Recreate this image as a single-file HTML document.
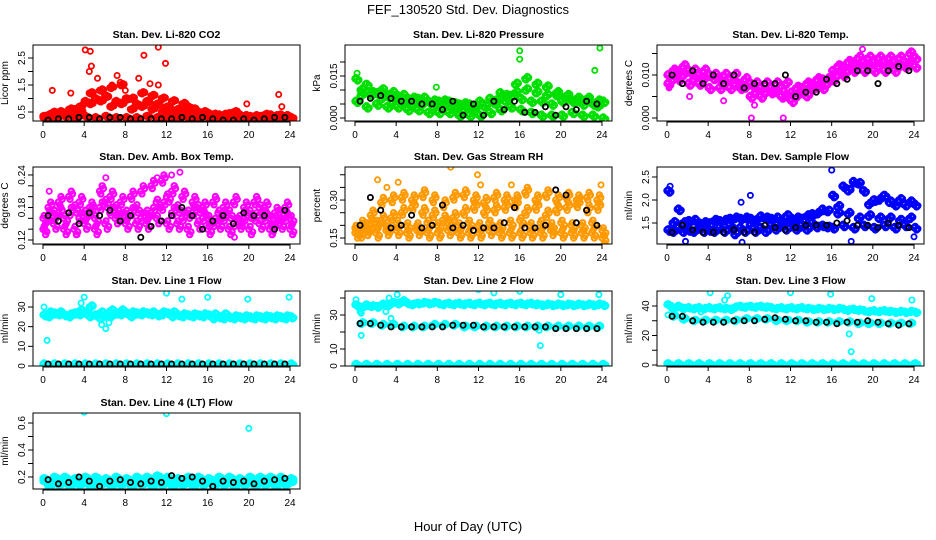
<!DOCTYPE html>
<html><head><meta charset="utf-8"><style>
body{margin:0;background:#fff;}
svg{display:block;font-family:"Liberation Sans",sans-serif;}
</style></head><body>
<svg id="chart" width="936" height="540" viewBox="0 0 936 540">
<text x="468" y="14" text-anchor="middle" font-size="13">FEF_130520  Std. Dev. Diagnostics</text>
<text x="468" y="531" text-anchor="middle" font-size="13">Hour of Day (UTC)</text>
</svg>
<script>
const hoursH=[0,1,2,3,4,5,6,7,8,9,10,11,12,13,14,15,16,17,18,19,20,21,22,23,24];
const hoursHalf=[0.5,1.5,2.5,3.5,4.5,5.5,6.5,7.5,8.5,9.5,10.5,11.5,12.5,13.5,14.5,15.5,16.5,17.5,18.5,19.5,20.5,21.5,22.5,23.5];
const xTicks=[0,4,8,12,16,20,24];

const co2A=[0.3,0.3,0.35,0.3,0.35,0.3,0.35,0.3,0.3,0.3,0.35,0.3,0.3,0.3,0.3,0.3,0.3,0.25,0.3,0.3,0.25,0.3,0.3,0.3,0.3];
const co2B=[0.4,0.5,0.6,0.7,0.8,0.9,0.7,0.8,0.6,0.7,0.6,0.5,0.5,0.45,0.5,0.4,0.4,0.35,0.4,0.35,0.35,0.4,0.35,0.35];
const co2C=[0.35,0.5,0.45,0.6,0.9,1.0,1.1,0.9,1.0,0.8,0.9,0.8,0.7,0.6,0.7,0.5,0.45,0.4,0.45,0.4,0.35,0.35,0.4,0.4,0.3];
const co2D=[0.3,0.35,0.4,0.5,1.2,1.3,1.4,1.5,1.0,1.2,1.1,1.0,0.9,0.8,0.6,0.5,0.4,0.4,0.5,0.35,0.3,0.3,0.3,0.35];
const co2OutX=[4.1,4.6,4.7,4.5,5.3,0.9,2.7,7.2,7.5,9.8,9.3,11.2,11.9,10.4,11.2,19.8,22.9,23.2,6.7,8];
const co2OutY=[2.8,2.75,2.2,2.0,1.75,1.3,1.2,1.85,1.6,2.6,1.75,2.9,2.3,1.55,1.5,0.8,1.15,0.7,1.5,1.3];
const co2Black=[0.2,0.25,0.25,0.3,0.3,0.25,0.3,0.3,0.25,0.25,0.25,0.25,0.25,0.3,0.25,0.3,0.25,0.2,0.2,0.25,0.2,0.25,0.3,0.3];

const presA=[0.014,0.012,0.009,0.008,0.008,0.007,0.007,0.006,0.006,0.006,0.005,0.005,0.006,0.007,0.009,0.008,0.007,0.006,0.006,0.005,0.006,0.006,0.005,0.005,0.006];
const presB=[0.010,0.008,0.007,0.006,0.005,0.005,0.005,0.004,0.004,0.003,0.003,0.003,0.004,0.005,0.006,0.012,0.014,0.012,0.011,0.009,0.008,0.007,0.007,0.004];
const presC=[0.006,0.004,0.005,0.004,0.004,0.003,0.003,0.002,0.002,0.002,0.001,0.001,0.001,0.002,0.003,0.004,0.003,0.002,0.001,0.001,0.001,0.002,0.001,0.001,0.0];
const presD=[0.008,0.009,0.010,0.009,0.008,0.007,0.007,0.006,0.006,0.005,0.005,0.004,0.004,0.006,0.008,0.009,0.010,0.009,0.008,0.008,0.007,0.006,0.006,0.006];
const presOutX=[16,16,23.8,23.3,7.9,0.2];
const presOutY=[0.024,0.021,0.025,0.017,0.011,0.016];
const presBlack=[0.006,0.007,0.008,0.007,0.006,0.006,0.005,0.005,0.003,0.006,0.001,0.005,0.001,0.006,0.003,0.006,0.002,0.002,0.004,0.001,0.004,0.003,0.006,0.005];

const ltA=[0.010,0.011,0.011,0.010,0.010,0.009,0.009,0.008,0.008,0.007,0.007,0.007,0.006,0.007,0.008,0.009,0.011,0.012,0.013,0.013,0.013,0.013,0.013,0.013,0.014];
const ltB=[0.009,0.010,0.009,0.009,0.009,0.008,0.008,0.007,0.006,0.006,0.006,0.005,0.005,0.005,0.007,0.008,0.010,0.011,0.012,0.012,0.012,0.012,0.012,0.013];
const ltC=[0.008,0.009,0.008,0.008,0.007,0.007,0.007,0.007,0.005,0.005,0.006,0.005,0.004,0.006,0.007,0.007,0.009,0.010,0.011,0.011,0.011,0.011,0.011,0.012,0.012];
const ltD=[0.011,0.012,0.011,0.011,0.010,0.010,0.010,0.009,0.008,0.008,0.008,0.008,0.007,0.008,0.009,0.009,0.012,0.013,0.014,0.014,0.014,0.014,0.014,0.015];
const ltOutX=[8.2,11.3,5.5,8.5,2.2,19,0.2];
const ltOutY=[0.0,0.0,0.004,0.003,0.005,0.016,0.007];
const ltBlack=[0.010,0.008,0.011,0.008,0.010,0.008,0.010,0.007,0.008,0.008,0.008,0.010,0.005,0.006,0.006,0.009,0.008,0.009,0.011,0.011,0.008,0.011,0.012,0.011];

const ambA=[0.16,0.17,0.16,0.18,0.17,0.16,0.19,0.18,0.17,0.18,0.17,0.19,0.2,0.18,0.17,0.18,0.16,0.17,0.17,0.16,0.17,0.18,0.16,0.17,0.16];
const ambB=[0.18,0.19,0.2,0.19,0.18,0.21,0.2,0.19,0.2,0.21,0.22,0.23,0.21,0.2,0.19,0.18,0.19,0.18,0.19,0.18,0.19,0.18,0.17,0.18];
const ambC=[0.14,0.15,0.14,0.14,0.15,0.14,0.15,0.16,0.15,0.15,0.15,0.16,0.15,0.15,0.14,0.15,0.14,0.15,0.14,0.15,0.14,0.15,0.14,0.15,0.14];
const ambD=[0.16,0.17,0.17,0.16,0.17,0.18,0.17,0.16,0.17,0.16,0.17,0.18,0.17,0.16,0.17,0.16,0.15,0.16,0.15,0.16,0.16,0.16,0.15,0.16];
const ambOutX=[0.6,6.1,11.1,12.5,13.3,18.6,22.3,3.3,0.2];
const ambOutY=[0.21,0.235,0.235,0.24,0.245,0.125,0.13,0.13,0.14];
const ambBlack=[0.165,0.155,0.17,0.15,0.17,0.165,0.175,0.155,0.165,0.125,0.145,0.155,0.165,0.18,0.165,0.14,0.155,0.165,0.15,0.17,0.165,0.165,0.14,0.175];

const rhA=[0.17,0.18,0.17,0.18,0.18,0.17,0.18,0.17,0.17,0.18,0.17,0.17,0.17,0.18,0.17,0.17,0.17,0.17,0.17,0.18,0.17,0.17,0.17,0.17,0.15];
const rhB=[0.2,0.2,0.22,0.23,0.25,0.27,0.25,0.24,0.22,0.23,0.25,0.27,0.25,0.26,0.27,0.28,0.25,0.27,0.24,0.26,0.27,0.28,0.26,0.27];
const rhC=[0.19,0.2,0.21,0.2,0.21,0.2,0.2,0.21,0.2,0.21,0.2,0.21,0.2,0.21,0.2,0.21,0.22,0.2,0.21,0.2,0.21,0.2,0.2,0.21,0.18];
const rhD=[0.16,0.24,0.29,0.3,0.31,0.3,0.32,0.3,0.28,0.31,0.32,0.3,0.29,0.31,0.3,0.3,0.33,0.3,0.32,0.3,0.31,0.3,0.31,0.3];
const rhOutX=[2.2,4.2,9.3,11.9,12.2,3.1,23.9,15.2];
const rhOutY=[0.38,0.37,0.43,0.4,0.36,0.35,0.36,0.36];
const rhBlack=[0.2,0.31,0.26,0.19,0.2,0.24,0.19,0.2,0.28,0.19,0.2,0.18,0.19,0.19,0.21,0.27,0.19,0.19,0.2,0.34,0.32,0.21,0.26,0.2];

const sfA=[1.35,1.4,1.35,1.4,1.35,1.4,1.45,1.4,1.45,1.4,1.45,1.45,1.5,1.45,1.5,1.45,1.4,1.45,1.4,1.45,1.4,1.45,1.4,1.45,1.4];
const sfB=[1.5,1.5,1.55,1.5,1.55,1.55,1.6,1.6,1.55,1.6,1.6,1.65,1.6,1.65,1.7,1.75,1.7,1.7,1.6,1.65,1.6,1.6,1.55,1.6];
const sfC=[2.2,1.8,1.55,1.5,1.5,1.55,1.6,1.6,1.6,1.65,1.6,1.55,1.6,1.6,1.7,1.8,2.1,2.3,2.4,2.2,2.0,2.1,1.9,1.9,1.9];
const sfD=[1.3,1.3,1.3,1.3,1.3,1.3,1.25,1.3,1.3,1.3,1.35,1.35,1.35,1.35,1.4,1.4,1.85,2.2,2.35,1.9,2.0,1.95,2.0,1.95];
const sfOutX=[0.3,8.1,16,7.3,17.9,24,7.2,1.8];
const sfOutY=[2.3,2.1,2.65,1.08,1.1,1.2,1.95,1.1];
const sfBlack=[1.3,1.45,1.35,1.3,1.3,1.3,1.35,1.3,1.3,1.45,1.4,1.35,1.4,1.45,1.45,1.45,1.5,1.55,1.45,1.45,1.4,1.5,1.45,1.4];

const l1A=[26,27,26,27,27,26,26,27,27,27,27,26,27,26,26,26,26,25,25,25,25,25,25,25,25];
const l1B=[25,26,25,28,30,27,28,28,27,27,27,27,27,26,26,26,26,26,25,25,25,25,25,25];
const l1C=[1,1,1,1,1,1,1,1,1,1,1,1,1,1,1,1,1,1,1,1,1,1,1,1,1];
const l1D=[27,27,26,26,25,24,25,26,25,26,26,26,25,25,25,25,24,24,24,24,24,24,24,24];
const l1OutX=[0.1,0.4,4,3.7,12,13.5,16,19.9,23.9,6.1,5.7,6.4];
const l1OutY=[30,13,35,32,37,34,35,34,35,19,21,22];
const l1Black=[1,1,1,1,1,1,1,1,1,1,1,1,1,1,1,1,1,1,1,1,1,1,1,1];

const l2A=[36,36,35,36,37,37,37,37,37,37,37,37,37,37,37,37,37,37,36,36,36,36,36,36,36];
const l2B=[34,35,36,37,38,36,37,37,36,36,36,36,36,36,36,36,36,36,36,36,36,36,36,36];
const l2C=[1,1,1,1,1,1,1,1,1,1,1,1,1,1,1,1,1,1,1,1,1,1,1,1,1];
const l2D=[25,25,24,24,23,23,23,24,24,24,23,23,23,23,23,23,23,23,23,23,23,23,23,23];
const l2OutX=[0.1,0.5,0.6,0.6,3,3.5,3.3,4.1,12,18,17.9,23.7,16,13.5,20];
const l2OutY=[39,32,31,18,32,28,40,42,45,12,21,42,44,43,42];
const l2Black=[25,25,24,23,23,23,23,23,23,24,24,24,23,23,23,23,23,23,23,22,22,22,22,22];

const l3A=[41,40,39,39,39,39,38,40,40,40,39,39,39,39,38,38,38,38,38,37,37,37,36,36,36];
const l3B=[38,38,38,38,38,38,39,39,39,39,38,38,38,38,38,38,38,37,37,36,36,36,36,36];
const l3C=[1,1,1,1,1,1,1,1,1,1,1,1,1,1,1,1,1,1,1,1,1,1,1,1,1];
const l3D=[33,31,30,30,30,30,30,31,31,31,30,30,30,29,29,29,29,29,28,28,28,28,28,28];
const l3OutX=[4.2,5.9,12,15.9,17.9,17.7,23.8,0.1,3.3,19.9,5.6];
const l3OutY=[49,47,49,48,9,21,44,34,36,45,44];
const l3Black=[33,33,30,29,29,29,30,30,30,31,32,31,30,30,29,29,28,29,29,30,29,28,27,28];

const l4A=[0.17,0.18,0.17,0.18,0.17,0.18,0.17,0.18,0.17,0.18,0.17,0.18,0.17,0.18,0.17,0.18,0.17,0.18,0.17,0.18,0.17,0.18,0.17,0.18,0.17];
const l4B=[0.15,0.16,0.15,0.16,0.15,0.16,0.15,0.16,0.15,0.16,0.15,0.16,0.15,0.16,0.15,0.16,0.15,0.16,0.15,0.16,0.15,0.16,0.15,0.16];
const l4C=[0.19,0.2,0.2,0.19,0.2,0.2,0.19,0.2,0.19,0.2,0.2,0.21,0.2,0.19,0.2,0.2,0.19,0.2,0.2,0.19,0.2,0.2,0.2,0.2,0.19];
const l4D=[0.13,0.14,0.13,0.14,0.13,0.14,0.13,0.14,0.13,0.14,0.13,0.14,0.13,0.14,0.13,0.14,0.13,0.14,0.13,0.14,0.13,0.14,0.13,0.14];
const l4OutX=[4,12,20,11];
const l4OutY=[0.68,0.67,0.56,0.21];
const l4Black=[0.18,0.15,0.16,0.2,0.17,0.13,0.17,0.18,0.16,0.15,0.17,0.16,0.21,0.19,0.2,0.17,0.13,0.17,0.16,0.17,0.15,0.17,0.18,0.19];

const NS="http://www.w3.org/2000/svg";
const svg=document.getElementById('chart');
function mk(tag,attrs,parent){const e=document.createElementNS(NS,tag);for(const k in attrs)e.setAttribute(k,attrs[k]);(parent||svg).appendChild(e);return e;}

const colX0=[43,355,667];
const rowBox=[[45,121],[167,244],[291,366],[413,489]];
const pxPerHour=247/24;
const copyDx=[0,0.25,0.12,0.37];
const copyDy=[0,1,-0.5,0.5];

function panel(cfg){
  const x0=colX0[cfg.col];const [top,bot]=rowBox[cfg.row];
  const left=x0-10,right=x0+247+10;
  const X=h=>x0+h*pxPerHour;
  const Y=v=>cfg.py0+(v-cfg.v0)*cfg.pxPer;
  const g=mk('g',{});
  
  
  const t=mk('text',{x:(left+right)/2,y:top-7,'text-anchor':'middle','font-size':'10.5','font-weight':'bold'},g);
  t.textContent=cfg.title;
  
  
  const pts=mk('g',{},g);
  
  
  const clip='clip-'+cfg.name;
  const cp=mk('clipPath',{id:clip},g);mk('rect',{x:left,y:top,width:right-left,height:bot-top},cp);
  pts.setAttribute('clip-path','url(#'+clip+')');
  function dot(h,v,col,w){
    const c=mk('circle',{cx:X(h).toFixed(1),cy:Y(v).toFixed(1),r:2.6,fill:'none',stroke:col,'stroke-width':w},pts);
    
    
  }
  cfg.rows.forEach((r,i)=>{const hs=i%2===0?hoursH:hoursHalf;const s=i%2?1:-1;
    r.forEach((v,j)=>{if(j<hs.length){copyDx.forEach((dx,k)=>dot(hs[j]+dx,v+s*copyDy[k]*cfg.jit,cfg.color,2.2));}});});
  cfg.outX.forEach((h,j)=>dot(h,cfg.outY[j],cfg.color,1.8));
  cfg.black.forEach((v,j)=>dot(hoursHalf[j],v,'#000',1.8));
  const box=mk('rect',{x:left,y:top,width:right-left,height:bot-top,fill:'none',stroke:'#000','stroke-width':1},g);
  
  
  const ax=mk('g',{'font-size':'10'},g);
  
  
  mk('line',{x1:X(0),x2:X(24),y1:bot+1,y2:bot+1,stroke:'#000'},ax);
  xTicks.forEach(h=>{mk('line',{x1:X(h),x2:X(h),y1:bot,y2:bot+5,stroke:'#000'},ax);
    const l=mk('text',{x:X(h),y:bot+17,'text-anchor':'middle'},ax);l.textContent=h;});
  const ay=mk('g',{'font-size':'10'},g);
  
  
  const tys=cfg.ticks.map(Y).filter(y=>y>=top-1&&y<=bot+1);
  mk('line',{x1:left,x2:left,y1:Math.min(...tys),y2:Math.max(...tys),stroke:'#000'},ay);
  cfg.ticks.forEach((v,i)=>{const y=Y(v);if(y<top-1||y>bot+1)return;
    mk('line',{x1:left-5,x2:left,y1:y,y2:y,stroke:'#000'},ay);
    if(cfg.labels[i]){const l=mk('text',{x:left-8,y:y,'text-anchor':'middle',transform:`rotate(-90 ${left-8} ${y})`},ay);l.textContent=cfg.labels[i];}});
  const yl=mk('text',{x:left-25,y:(top+bot)/2,'text-anchor':'middle','font-size':'10',transform:`rotate(-90 ${left-25} ${(top+bot)/2})`},g);
  yl.textContent=cfg.ylab;
  
  
}

panel({name:'co2-panel',title:'Stan. Dev. Li-820 CO2',ylab:'Licor ppm',col:0,row:0,color:'#ff0000',v0:0.5,py0:112,pxPer:-27,jit:0.05,
  ticks:[0.5,1,1.5,2,2.5],labels:['0.5','','1.5','','2.5'],rows:[co2A,co2B,co2C,co2D],outX:co2OutX,outY:co2OutY,black:co2Black});
panel({name:'pressure-panel',title:'Stan. Dev. Li-820 Pressure',ylab:'kPa',col:1,row:0,color:'#00e000',v0:0,py0:118,pxPer:-2800,jit:0.0008,
  ticks:[0,0.005,0.01,0.015,0.02],labels:['0.000','','','0.015',''],rows:[presA,presB,presC,presD],outX:presOutX,outY:presOutY,black:presBlack});
panel({name:'li-temp-panel',title:'Stan. Dev. Li-820 Temp.',ylab:'degrees C',col:2,row:0,color:'#ff00ff',v0:0,py0:118,pxPer:-4300,jit:0.0006,
  ticks:[0,0.005,0.01,0.015],labels:['0.000','','0.010',''],rows:[ltA,ltB,ltC,ltD],outX:ltOutX,outY:ltOutY,black:ltBlack});
panel({name:'amb-temp-panel',title:'Stan. Dev. Amb. Box Temp.',ylab:'degrees C',col:0,row:1,color:'#ff00ff',v0:0.12,py0:240,pxPer:-542,jit:0.01,
  ticks:[0.12,0.14,0.16,0.18,0.2,0.22,0.24],labels:['0.12','','','0.18','','','0.24'],rows:[ambA,ambB,ambC,ambD],outX:ambOutX,outY:ambOutY,black:ambBlack});
panel({name:'rh-panel',title:'Stan. Dev. Gas Stream RH',ylab:'percent',col:1,row:1,color:'#ff9900',v0:0.15,py0:238,pxPer:-253,jit:0.02,
  ticks:[0.15,0.2,0.25,0.3,0.35,0.4],labels:['0.15','','','0.30','',''],rows:[rhA,rhB,rhC,rhD],outX:rhOutX,outY:rhOutY,black:rhBlack});
panel({name:'sample-flow-panel',title:'Stan. Dev. Sample Flow',ylab:'ml/min',col:2,row:1,color:'#0000ff',v0:1.5,py0:223,pxPer:-46,jit:0.05,
  ticks:[1.5,2,2.5],labels:['1.5','2.0','2.5'],rows:[sfA,sfB,sfC,sfD],outX:sfOutX,outY:sfOutY,black:sfBlack});
panel({name:'line1-panel',title:'Stan. Dev. Line 1 Flow',ylab:'ml/min',col:0,row:2,color:'#00ffff',v0:0,py0:366,pxPer:-1.967,jit:1,
  ticks:[0,10,20,30],labels:['0','10','20','30'],rows:[l1A,l1B,l1C,l1D],outX:l1OutX,outY:l1OutY,black:l1Black});
panel({name:'line2-panel',title:'Stan. Dev. Line 2 Flow',ylab:'ml/min',col:1,row:2,color:'#00ffff',v0:0,py0:366,pxPer:-1.7,jit:1,
  ticks:[0,10,20,30,40],labels:['0','10','','30',''],rows:[l2A,l2B,l2C,l2D],outX:l2OutX,outY:l2OutY,black:l2Black});
panel({name:'line3-panel',title:'Stan. Dev. Line 3 Flow',ylab:'ml/min',col:2,row:2,color:'#00ffff',v0:0,py0:365,pxPer:-1.475,jit:1,
  ticks:[0,10,20,30,40],labels:['0','','20','','40'],rows:[l3A,l3B,l3C,l3D],outX:l3OutX,outY:l3OutY,black:l3Black});
panel({name:'line4-panel',title:'Stan. Dev. Line 4 (LT) Flow',ylab:'ml/min',col:0,row:3,color:'#00ffff',v0:0.2,py0:477,pxPer:-135,jit:0.01,
  ticks:[0.2,0.3,0.4,0.5,0.6,0.7],labels:['0.2','','0.4','','0.6',''],rows:[l4A,l4B,l4C,l4D],outX:l4OutX,outY:l4OutY,black:l4Black});
</script>
</body></html>
